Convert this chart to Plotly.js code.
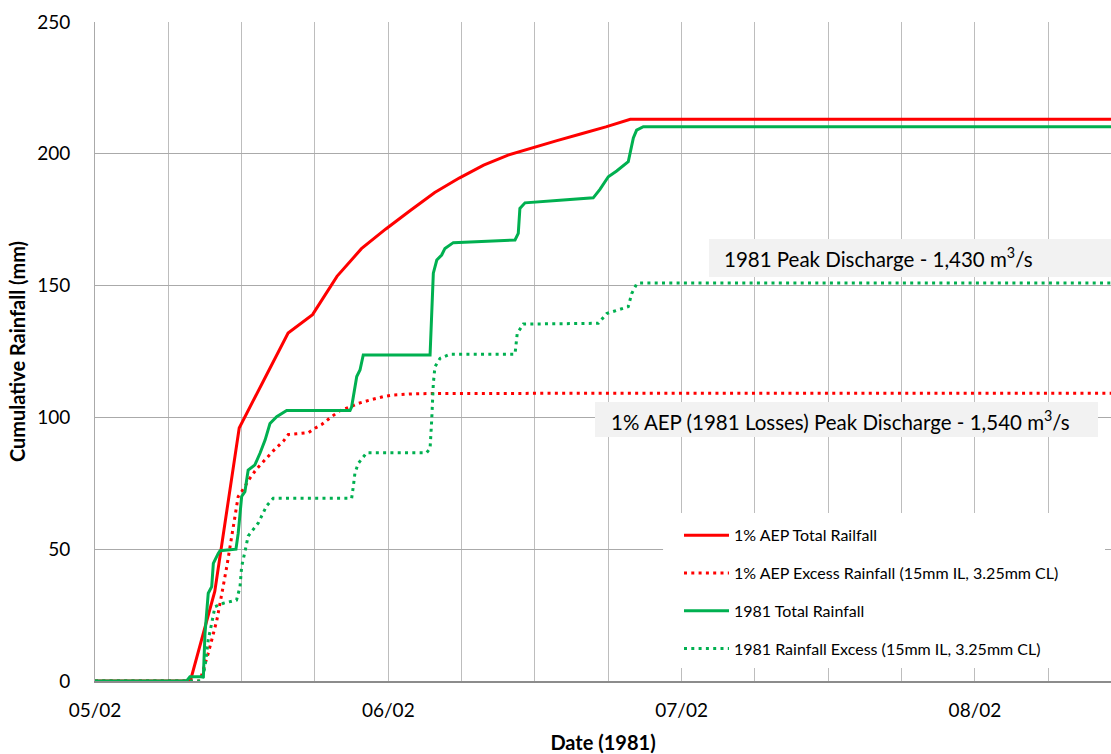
<!DOCTYPE html>
<html>
<head>
<meta charset="utf-8">
<script src="https://cdn.plot.ly/plotly-3.0.1.min.js"></script>
<style>html,body{margin:0;padding:0;background:#fff;}#chart{width:1111px;height:754px;}</style>
</head>
<body>
<div id="chart"></div>
<script>
// ---- Data (dates are 1981, dd/mm axis labels) ----
const aepTotalTime = ['1981-02-05 00:00','1981-02-05 07:48','1981-02-05 09:48','1981-02-05 11:48','1981-02-05 13:48','1981-02-05 15:48','1981-02-05 17:48','1981-02-05 19:48','1981-02-05 21:48','1981-02-05 23:48','1981-02-06 01:48','1981-02-06 03:48','1981-02-06 05:48','1981-02-06 07:48','1981-02-06 09:48','1981-02-06 11:48','1981-02-06 13:48','1981-02-06 15:48','1981-02-06 17:48','1981-02-06 19:48','1981-02-08 12:00'];
const aepTotal = [0,0,34,96,114,132,139,153.5,164,171.5,178.5,185.3,190.8,195.7,199.5,202.3,205,207.6,210.2,213.1,213.1];

const aepExcessTime = ['1981-02-05 00:00','1981-02-05 08:35','1981-02-05 09:16','1981-02-05 09:41','1981-02-05 09:58','1981-02-05 10:14','1981-02-05 10:47','1981-02-05 11:19','1981-02-05 11:43','1981-02-05 12:00','1981-02-05 12:41','1981-02-05 13:14','1981-02-05 13:55','1981-02-05 14:35','1981-02-05 15:25','1981-02-05 15:49','1981-02-05 16:30','1981-02-05 17:27','1981-02-05 18:00','1981-02-05 18:33','1981-02-05 19:22','1981-02-05 20:03','1981-02-05 20:52','1981-02-05 21:32','1981-02-05 22:30','1981-02-05 23:35','1981-02-06 00:25','1981-02-06 01:46','1981-02-06 03:41','1981-02-08 12:00'];
const aepExcess = [0,0,10.5,18,23,29.5,43.4,58.5,70,71.8,77,80.5,84,87.3,91,93.5,93.8,94.2,95.9,97.3,100.3,102.6,104,105.3,106.6,107.9,108.5,108.9,109.1,109.2];

const totalTime1981 = ['1981-02-05 00:00','1981-02-05 07:30','1981-02-05 07:46','1981-02-05 08:52','1981-02-05 09:00','1981-02-05 09:16','1981-02-05 09:33','1981-02-05 09:41','1981-02-05 10:05','1981-02-05 10:14','1981-02-05 11:32','1981-02-05 11:43','1981-02-05 12:00','1981-02-05 12:16','1981-02-05 12:32','1981-02-05 13:05','1981-02-05 13:30','1981-02-05 13:55','1981-02-05 14:19','1981-02-05 14:52','1981-02-05 15:41','1981-02-05 20:52','1981-02-05 21:00','1981-02-05 21:25','1981-02-05 21:41','1981-02-05 21:57','1981-02-06 03:25','1981-02-06 03:41','1981-02-06 03:58','1981-02-06 04:22','1981-02-06 04:38','1981-02-06 05:19','1981-02-06 10:22','1981-02-06 10:38','1981-02-06 10:46','1981-02-06 11:11','1981-02-06 14:19','1981-02-06 16:46','1981-02-06 17:19','1981-02-06 18:00','1981-02-06 18:41','1981-02-06 19:38','1981-02-06 20:03','1981-02-06 20:19','1981-02-06 20:52','1981-02-08 12:00'];
const total1981 = [0,0,1.6,1.6,18,33.3,35.8,44.6,48.4,49.4,50,56,70,71.8,80,82,86.4,91.4,97.7,100.3,102.6,102.6,104,115.5,118,123.7,123.7,154.7,159.7,161.6,164.1,166.3,167.3,169.8,179.3,181.4,182.5,183.3,186.5,191.3,193.5,197,206,209,210.3,210.3];

const excessTime1981 = ['1981-02-05 00:00','1981-02-05 08:44','1981-02-05 09:00','1981-02-05 09:16','1981-02-05 09:33','1981-02-05 09:49','1981-02-05 10:30','1981-02-05 11:35','1981-02-05 11:52','1981-02-05 12:00','1981-02-05 12:16','1981-02-05 12:32','1981-02-05 13:22','1981-02-05 14:03','1981-02-05 14:35','1981-02-05 21:00','1981-02-05 21:08','1981-02-05 21:16','1981-02-05 21:32','1981-02-05 22:14','1981-02-06 03:08','1981-02-06 03:25','1981-02-06 03:33','1981-02-06 03:41','1981-02-06 03:49','1981-02-06 04:14','1981-02-06 05:03','1981-02-06 10:22','1981-02-06 10:33','1981-02-06 11:03','1981-02-06 17:11','1981-02-06 17:52','1981-02-06 19:38','1981-02-06 19:55','1981-02-06 20:19','1981-02-06 20:36','1981-02-08 12:00'];
const excess1981 = [0,0,5.4,15.6,21.9,28.2,29.5,30.7,35.8,43.4,49,55,60,66.5,69.3,69.3,73.7,78.8,82.5,86.6,86.6,88.2,99,112.9,119.2,122.4,124,124,131.9,135.4,135.7,139.4,142,147,150.6,151,151];

const seriesNames = ['1% AEP Total Railfall','1% AEP Excess Rainfall (15mm IL, 3.25mm CL)','1981 Total Rainfall','1981 Rainfall Excess (15mm IL, 3.25mm CL)'];
const peakLabels = ['1981 Peak Discharge - 1,430 m<sup>3</sup>/s','1% AEP (1981 Losses) Peak Discharge - 1,540 m<sup>3</sup>/s'];
const xTitle = 'Date (1981)';
const yTitle = 'Cumulative Rainfall (mm)';

// ---- Styling ----
const RED = '#ff0000', GREEN = '#00b050';
const DOT = '3px,4.3px';
const FONT = 'Lato, "Open Sans", sans-serif';
const GRID = '#bdbdbd';

const traces = [
  {x: aepTotalTime, y: aepTotal, name: seriesNames[0], legendgroup: 'a', mode: 'lines', line: {color: RED, width: 3}},
  {x: aepExcessTime, y: aepExcess, name: seriesNames[1], legendgroup: 'b', mode: 'lines', line: {color: RED, width: 3, dash: DOT}},
  {x: totalTime1981, y: total1981, name: seriesNames[2], legendgroup: 'c', mode: 'lines', line: {color: GREEN, width: 3}},
  {x: excessTime1981, y: excess1981, name: seriesNames[3], legendgroup: 'd', mode: 'lines', line: {color: GREEN, width: 3, dash: DOT}}
];

const layout = {
  width: 1111, height: 754,
  margin: {l: 95, r: 0, t: 22, b: 73},
  paper_bgcolor: '#ffffff', plot_bgcolor: '#ffffff',
  font: {family: FONT, color: '#000000'},
  showlegend: true,
  legend: {
    x: 0.5748, y: 0.247, xanchor: 'left', yanchor: 'top',
    bgcolor: 'rgba(255,255,255,0)', borderwidth: 0,
    font: {family: FONT, size: 16, color: '#000'},
    tracegroupgap: 14, itemwidth: 45
  },
  xaxis: {
    type: 'date',
    range: ['1981-02-05 00:00', '1981-02-08 11:08'],
    tick0: '1981-02-05', dtick: 86400000, tickformat: '%d/%m',
    showgrid: true, gridcolor: GRID, gridwidth: 1,
    minor: {dtick: 21600000, tick0: '1981-02-05', showgrid: true, gridcolor: GRID, gridwidth: 1},
    showline: true, linecolor: '#8c8c8c', linewidth: 1.5,
    ticks: '', ticklabelstandoff: 12,
    tickfont: {family: FONT, size: 19, color: '#000'},
    zeroline: false,
    title: {text: '<b>' + xTitle + '</b>', font: {family: FONT, size: 20, color: '#000'}, standoff: 16}
  },
  yaxis: {
    range: [0, 250], dtick: 50,
    showgrid: true, gridcolor: '#aaaaaa', gridwidth: 1,
    showline: true, linecolor: '#aaaaaa', linewidth: 1,
    ticks: '', ticklabelstandoff: 20,
    tickfont: {family: FONT, size: 19, color: '#000'},
    zeroline: false,
    title: {text: '<b>' + yTitle + '</b>', font: {family: FONT, size: 20, color: '#000'}, standoff: 6}
  },
  shapes: [
    {type: 'rect', xref: 'paper', yref: 'paper', x0: 0.5591, x1: 0.9941, y0: 0.0197, y1: 0.2549, fillcolor: '#ffffff', line: {width: 0}, layer: 'above'},
    {type: 'rect', xref: 'paper', yref: 'paper', x0: 0.6043, x1: 1.02, y0: 0.613, y1: 0.6707, fillcolor: '#f2f2f2', line: {width: 0}, layer: 'above'},
    {type: 'rect', xref: 'paper', yref: 'paper', x0: 0.4921, x1: 0.9872, y0: 0.3703, y1: 0.4234, fillcolor: '#f2f2f2', line: {width: 0}, layer: 'above'}
  ],
  annotations: [
    {text: peakLabels[0], xref: 'paper', yref: 'paper', x: 0.6171, y: 0.6419, xanchor: 'left', yanchor: 'middle', showarrow: false, font: {family: FONT, size: 20.5, color: '#000'}},
    {text: peakLabels[1], xref: 'paper', yref: 'paper', x: 0.5059, y: 0.396, xanchor: 'left', yanchor: 'middle', showarrow: false, font: {family: FONT, size: 20.5, color: '#000'}}
  ]
};

Plotly.newPlot('chart', traces, layout, {displayModeBar: false, staticPlot: true});
</script>
</body>
</html>
